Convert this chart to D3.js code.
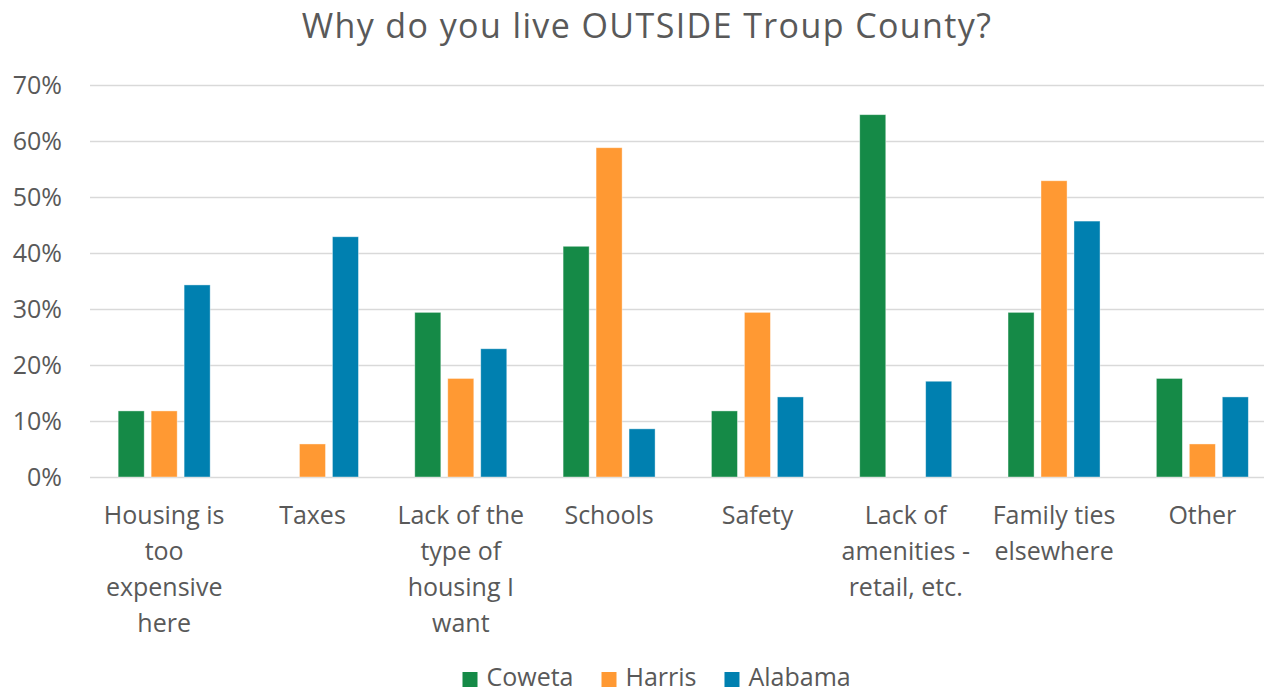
<!DOCTYPE html>
<html>
<head>
<meta charset="utf-8">
<script src="https://cdn.jsdelivr.net/npm/d3@7"></script>
<style>
  html, body { margin: 0; padding: 0; background: #fff; overflow: hidden; }
  svg { display: block; font-family: "Open Sans", sans-serif; }
</style>
</head>
<body>
<svg id="chart" width="1264" height="693"></svg>
<script>
// ---- Data ----
const title = "Why do you live OUTSIDE Troup County?";
const categories = [
  "Housing is too expensive here",
  "Taxes",
  "Lack of the type of housing I want",
  "Schools",
  "Safety",
  "Lack of amenities - retail, etc.",
  "Family ties elsewhere",
  "Other"
];
const categoryLines = [
  ["Housing is", "too", "expensive", "here"],
  ["Taxes"],
  ["Lack of the", "type of", "housing I", "want"],
  ["Schools"],
  ["Safety"],
  ["Lack of", "amenities -", "retail, etc."],
  ["Family ties", "elsewhere"],
  ["Other"]
];
const seriesNames = ["Coweta", "Harris", "Alabama"];
const coweta  = [11.8, 0,    29.4, 41.2, 11.8, 64.7, 29.4, 17.6];
const harris  = [11.8, 5.9,  17.6, 58.8, 29.4, 0,    52.9, 5.9];
const alabama = [34.3, 42.9, 22.9, 8.6,  14.3, 17.1, 45.7, 14.3];
const seriesValues = [coweta, harris, alabama];
const seriesColors = ["#158A47", "#FF9933", "#0080B0"];
const yTicks = [0, 10, 20, 30, 40, 50, 60, 70];

// ---- Layout ----
const svg = d3.select("#chart");
const plot = { left: 90, right: 1276.5, top: 85, bottom: 477 };
const textColor = "#595959";

const x0 = d3.scaleBand().domain(categories).range([plot.left, plot.right]).padding(0);
const groupW = 92;
const x1 = d3.scaleBand().domain(seriesNames)
  .range([(x0.bandwidth() - groupW) / 2, (x0.bandwidth() + groupW) / 2])
  .paddingInner(0.21).paddingOuter(0);
const y = d3.scaleLinear().domain([0, 70]).range([plot.bottom, plot.top]);

// Title
svg.append("text")
  .attr("x", 647).attr("y", 38)
  .attr("text-anchor", "middle")
  .attr("fill", textColor)
  .style("font-size", "34px")
  .style("letter-spacing", "1.4px")
  .text(title);

// Y axis with gridlines
const yAxis = d3.axisLeft(y)
  .tickValues(yTicks)
  .tickFormat(d => d + "%")
  .tickSize(-(plot.right - plot.left))
  .tickPadding(28);
const gy = svg.append("g").attr("transform", `translate(${plot.left},0)`).call(yAxis);
gy.select(".domain").remove();
gy.selectAll(".tick line").attr("stroke", "#d9d9d9").attr("stroke-width", 1.5);
gy.selectAll(".tick text").attr("fill", textColor).style("font-size", "25px")
  .style("font-family", "'Open Sans', sans-serif");

// Bars
const groups = svg.append("g").selectAll("g")
  .data(categories)
  .join("g")
  .attr("transform", d => `translate(${x0(d)},0)`);

groups.selectAll("rect")
  .data((d, i) => seriesNames.map((s, j) => ({ s, j, v: seriesValues[j][i] })))
  .join("rect")
  .filter(d => d.v > 0)
  .attr("x", d => x1(d.s))
  .attr("y", d => y(d.v))
  .attr("width", x1.bandwidth())
  .attr("height", d => y(0) - y(d.v))
  .attr("fill", d => seriesColors[d.j])
  .attr("stroke", "#ffffff")
  .attr("stroke-opacity", 0.5)
  .attr("stroke-width", 0.8);

// Category labels
const labels = svg.append("g").selectAll("text")
  .data(categories)
  .join("text")
  .attr("text-anchor", "middle")
  .attr("fill", textColor)
  .style("font-size", "25px")
  .attr("transform", d => `translate(${x0(d) + x0.bandwidth() / 2},524)`);
labels.each(function(d, i) {
  d3.select(this).selectAll("tspan")
    .data(categoryLines[i])
    .join("tspan")
    .attr("x", 0)
    .attr("y", (t, k) => k * 36)
    .text(t => t);
});

// Legend
const legend = svg.append("g");
let lx = 462.5;
seriesNames.forEach((name, i) => {
  legend.append("rect")
    .attr("x", lx).attr("y", 672)
    .attr("width", 15).attr("height", 15)
    .attr("fill", seriesColors[i]);
  const t = legend.append("text")
    .attr("x", lx + 24).attr("y", 686)
    .attr("fill", textColor)
    .style("font-size", "25px")
    .text(name);
  lx += 24 + t.node().getComputedTextLength() + 28;
});
</script>
</body>
</html>
